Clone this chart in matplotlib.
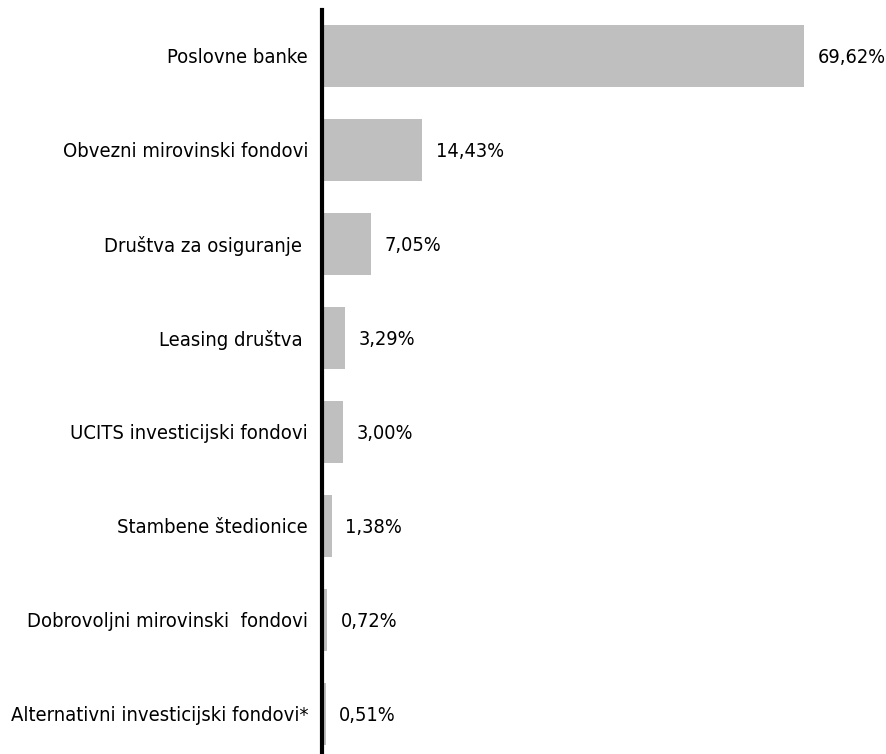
import matplotlib.pyplot as plt

# Podaci
kategorije = [
    "Poslovne banke",
    "Obvezni mirovinski fondovi",
    "Društva za osiguranje ",
    "Leasing društva ",
    "UCITS investicijski fondovi",
    "Stambene štedionice",
    "Dobrovoljni mirovinski  fondovi",
    "Alternativni investicijski fondovi*",
]
udjeli = [69.62, 14.43, 7.05, 3.29, 3.00, 1.38, 0.72, 0.51]

plt.rcParams['font.family'] = ['DejaVu Sans']
plt.rcParams['font.stretch'] = 'condensed'

fig = plt.figure(figsize=(8.87, 7.54), dpi=100)
ax = fig.add_axes([0.363, 0.0, 0.627, 0.987])

pozicije = list(range(len(kategorije)))
ax.barh(pozicije, udjeli, height=0.66, color="#bfbfbf")

# vrijednosti desno od stupaca
for p, v in zip(pozicije, udjeli):
    ax.text(v + 2.0, p + 0.02, f"{v:.2f}%".replace(".", ","), va="center", ha="left",
            fontsize=14.3, fontstretch="condensed", color="black")

ax.set_yticks(pozicije)
ax.set_yticklabels(kategorije, fontsize=14.5, fontstretch="condensed")
ax.tick_params(axis="y", length=0, pad=10)
ax.set_xticks([])
ax.set_xlim(0, 80.3)
ax.set_ylim(7.43, -0.49)

for s in ["top", "right", "bottom"]:
    ax.spines[s].set_visible(False)
ax.spines["left"].set_linewidth(3)
ax.spines["left"].set_color("black")

fig.savefig("out.png", dpi=100)
plt.close(fig)
